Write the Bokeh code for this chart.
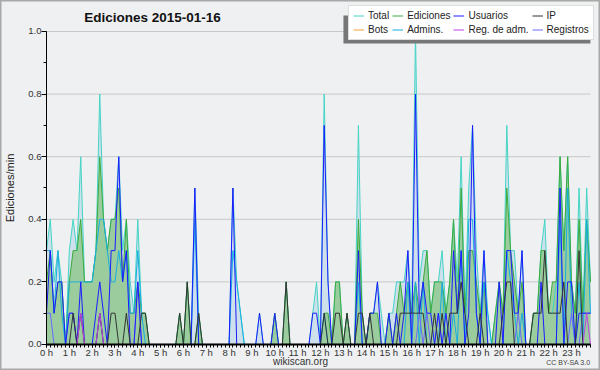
from bokeh.plotting import figure
from bokeh.models import (ColumnDataSource, FixedTicker, Legend, LegendItem, Label,
                          Range1d, PrintfTickFormatter, BoxAnnotation)
from bokeh.embed import file_html
from bokeh.resources import INLINE

# 10-minute bins over the day (values in edits/min)
total = [0.3,0.4,0.2,0.3,0.2,0.0,0.3,0.4,0.3,0.6,0.2,0.2,
         0.2,0.3,0.8,0.4,0.3,0.4,0.4,0.6,0.3,0.4,0.2,0.1,
         0.4,0.1,0.1,0,0,0,0,0,0,0,0,0.1,
         0,0.2,0,0.5,0.1,0,0,0,0,0,0,0,
         0,0.5,0.2,0.1,0,0,0,0,0.1,0,0,0,
         0.1,0,0,0.2,0,0,0,0,0,0,0.1,0.2,
         0,0.8,0.2,0,0.2,0.2,0,0.1,0,0,0.7,0.1,
         0,0.1,0.1,0.2,0.1,0,0.1,0.1,0.2,0.2,0.2,0.3,
         0.1,1.0,0.2,0.3,0.3,0.1,0.2,0.2,0.3,0.1,0.2,0.4,
         0.2,0.6,0.1,0.5,0.7,0.3,0.1,0.3,0.1,0,0.1,0.2,
         0.1,0.7,0.3,0.3,0.1,0.3,0,0,0.1,0.1,0.3,0.4,
         0.1,0.1,0.2,0.6,0.3,0.6,0.2,0.1,0.5,0.1,0.5,0.2]
edits = [0.2,0.3,0.1,0.2,0.2,0,0.2,0.3,0.3,0.4,0.2,0.2,
         0.2,0.3,0.6,0.4,0.3,0.4,0.4,0.5,0.2,0.4,0.1,0.1,
         0.2,0.1,0.1,0,0,0,0,0,0,0,0,0.1,
         0,0.2,0,0,0.1,0,0,0,0,0,0,0,
         0,0,0,0,0,0,0,0,0,0,0,0,
         0.1,0,0,0.2,0,0,0,0,0,0,0,0,
         0,0.1,0.1,0,0.2,0.2,0,0.1,0,0,0.4,0.1,
         0,0.1,0.1,0.1,0,0,0.1,0,0.1,0.2,0.1,0.2,
         0.1,0.2,0.1,0.2,0.3,0.1,0.2,0.2,0.2,0.1,0.2,0.4,
         0.1,0.5,0.1,0.3,0.3,0.2,0.1,0.2,0,0,0.1,0.2,
         0.1,0.5,0.3,0.2,0.1,0.2,0,0,0.1,0.1,0.3,0.3,
         0.1,0.2,0.2,0.6,0.3,0.6,0.2,0.1,0.4,0.1,0.4,0.2]
users = [0.1,0.3,0.1,0.2,0.2,0,0.1,0.1,0,0.2,0,0,
         0,0.1,0.2,0.1,0,0.3,0.3,0.6,0.2,0.3,0,0,
         0.2,0,0,0,0,0,0,0,0,0,0,0,
         0,0,0,0.5,0,0,0,0,0,0,0,0,
         0,0.5,0,0,0,0,0,0,0.1,0,0,0,
         0.1,0,0,0,0,0,0,0,0,0,0.1,0.1,
         0,0.7,0.2,0,0,0,0,0,0,0,0.3,0,
         0,0.1,0.1,0.2,0,0,0.1,0,0.1,0,0.1,0.3,
         0,0.8,0.1,0.2,0.1,0.1,0,0.1,0,0.1,0,0.3,
         0.1,0.3,0,0.1,0.7,0.1,0,0.3,0,0,0,0.2,
         0,0.3,0.3,0.1,0.1,0.3,0,0,0,0,0.2,0,
         0,0,0,0.5,0,0.2,0.2,0,0.1,0.1,0.1,0.1]
ip = [0,0,0,0,0,0,0,0.1,0,0.1,0,0,
      0,0,0.1,0,0,0.1,0.1,0,0,0.1,0,0,
      0,0.1,0.1,0,0,0,0,0,0,0,0,0.1,
      0,0.2,0,0,0.1,0,0,0,0,0,0,0,
      0,0,0,0,0,0,0,0,0,0,0,0,
      0,0,0,0.2,0,0,0,0,0,0,0,0,
      0,0.1,0,0,0.1,0.1,0,0.1,0,0,0.1,0.1,
      0,0.1,0,0,0,0,0,0,0,0.1,0.1,0.1,
      0.1,0.1,0.1,0.1,0,0,0.1,0,0.1,0,0.1,0.1,
      0.1,0.2,0.1,0,0,0,0.1,0,0,0,0,0,
      0.1,0.2,0.2,0,0,0,0,0,0.1,0.1,0.1,0.3,
      0.1,0.1,0.1,0.1,0.2,0,0,0,0.3,0,0,0]
admins = [0.3,0.3,0.1,0.3,0.1,0,0.2,0.2,0.2,0.2,0.2,0.2,
          0.2,0.3,0.4,0.4,0.3,0.2,0.2,0.3,0.2,0.3,0.1,0.1,
          0.3,0.1,0,0,0,0,0,0,0,0,0,0,
          0,0,0,0.4,0,0,0,0,0,0,0,0,
          0,0.3,0.2,0.1,0,0,0,0,0,0,0,0,
          0,0,0,0,0,0,0,0,0,0,0,0,
          0,0.1,0,0,0,0,0,0,0,0,0.2,0,
          0,0,0,0,0,0,0,0,0,0,0,0.2,
          0,0.2,0,0.2,0,0,0,0,0.2,0,0,0.1,
          0,0.3,0,0.4,0.4,0.1,0,0.2,0.1,0,0,0,
          0,0.3,0.2,0.1,0,0.1,0,0,0,0,0,0,
          0,0,0,0.4,0,0.5,0.1,0,0.2,0,0.4,0.1]
bots = [0] * 144
reg_adm = [0,0,0,0,0,0,0,0,0,0.1,0,0,
           0,0,0.1,0,0,0,0,0,0,0,0,0,
           0,0,0,0,0,0,0,0,0,0,0,0,
           0,0,0,0,0,0,0,0,0,0,0,0,
           0,0,0,0,0,0,0,0,0,0,0,0,
           0,0,0,0,0,0,0,0,0,0,0,0,
           0,0,0,0,0,0,0,0,0,0,0,0,
           0,0,0,0,0,0,0,0,0,0,0,0,
           0,0,0,0,0,0,0,0,0,0,0,0,
           0,0,0,0,0,0,0,0,0,0,0,0,
           0,0,0,0,0,0,0,0,0,0,0,0,
           0,0,0,0,0,0,0,0,0,0,0.1,0]
registros = [0.1,0.1,0,0,0,0,0.1,0.1,0,0,0,0,
             0,0,0.1,0,0,0,0,0,0,0,0,0,
             0.2,0,0,0,0,0,0,0,0,0,0,0,
             0,0,0,0,0,0,0,0,0,0,0,0,
             0,0,0,0,0,0,0,0,0,0,0,0,
             0,0,0,0,0,0,0,0,0,0,0,0,
             0,0,0,0,0,0,0,0,0,0,0,0,
             0,0,0,0,0,0,0,0,0,0,0,0,
             0,0,0.1,0,0.1,0,0,0.1,0,0,0,0,
             0,0,0,0,0,0,0,0,0,0,0,0,
             0,0,0,0,0.1,0,0,0,0,0,0,0,
             0,0,0,0,0,0,0.1,0,0,0.1,0.1,0.1]

hours = [i / 6 for i in range(144)]
hour_ticks = list(range(24))
hour_labels = {h: f"{h} h" for h in hour_ticks}
y_ticks = [0.0, 0.2, 0.4, 0.6, 0.8, 1.0]
series_names = ["Total", "Ediciones", "Usuarios", "IP",
                "Bots", "Admins.", "Reg. de adm.", "Registros"]

src = ColumnDataSource(dict(x=hours, total=total, edits=edits, users=users, ip=ip,
                            admins=admins, bots=bots, reg_adm=reg_adm,
                            registros=registros))

FONT = "Liberation Sans"
X_END = hours[-1]

p = figure(width=600, height=370, output_backend="svg", toolbar_location=None,
           x_range=Range1d(-2.0153, 24.272), y_range=Range1d(-0.0831, 1.099),
           min_border_left=0, min_border_right=0, min_border_top=0,
           min_border_bottom=0)
p.border_fill_color = "#f0f0f0"
p.background_fill_color = "#eff0f1"
p.outline_line_color = "#a8a8a8"
p.outline_line_width = 2

# horizontal grid lines, limited to the data span
grid_y = y_ticks[1:]
p.segment(x0=[0] * len(grid_y), x1=[X_END] * len(grid_y), y0=grid_y, y1=grid_y,
          line_color="#c8c8c8", line_width=1)
p.xgrid.visible = False
p.ygrid.visible = False

# areas
p.varea(x="x", y1=0, y2="total", source=src, fill_color="#c6dcea", fill_alpha=0.8)
p.varea(x="x", y1=0, y2="edits", source=src, fill_color="#96ca96", fill_alpha=0.9)

# lines
r_bots = p.line("x", "bots", source=src, line_color="#f0a030", line_width=1)
r_total = p.line("x", "total", source=src, line_color="#44d4c6", line_width=1)
r_edits = p.line("x", "edits", source=src, line_color="#3caa3c", line_width=1)
r_admins = p.line("x", "admins", source=src, line_color="#18aee0", line_width=1)
r_reg = p.line("x", "registros", source=src, line_color="#6a6aff", line_width=1)
r_users = p.line("x", "users", source=src, line_color="#1c1cff", line_width=1)
r_ip = p.line("x", "ip", source=src, line_color="#333333", line_width=1)
r_regadm = p.line("x", "reg_adm", source=src, line_color="#c040e8", line_width=1)

# axes (drawn at the data origin)
p.xaxis.fixed_location = 0
p.xaxis.bounds = (0, X_END)
p.xaxis.ticker = FixedTicker(ticks=hour_ticks, minor_ticks=hours)
p.xaxis.major_label_overrides = hour_labels
p.yaxis.fixed_location = 0
p.yaxis.bounds = (0, 1.0)
p.yaxis.ticker = FixedTicker(ticks=y_ticks, minor_ticks=[i / 10 for i in range(11)])
p.yaxis.formatter = PrintfTickFormatter(format="%.1f")
for ax in (p.xaxis[0], p.yaxis[0]):
    ax.axis_line_color = "black"
    ax.major_tick_line_color = "black"
    ax.minor_tick_line_color = "black"
    ax.major_tick_in = 0
    ax.minor_tick_in = 0
    ax.major_label_text_font = FONT
    ax.major_label_text_font_size = "9.5px"
    ax.major_label_text_color = "#333333"
p.xaxis.axis_line_width = 2
p.xaxis.major_tick_out = 3
p.xaxis.minor_tick_out = 3
p.xaxis.major_label_standoff = 0
p.yaxis.major_tick_out = 5
p.yaxis.minor_tick_out = 3
p.yaxis.major_label_standoff = 0
p.yaxis.axis_label = "Ediciones/min"
p.yaxis.axis_label_text_font = FONT
p.yaxis.axis_label_text_font_size = "11px"
p.yaxis.axis_label_text_font_style = "normal"
p.yaxis.axis_label_text_color = "#222222"
p.yaxis.axis_label_standoff = 9

# title & credits
p.add_layout(Label(x=4.73, y=1.045, text="Ediciones  2015-01-16", text_align="center",
                   text_baseline="middle", text_font=FONT, text_font_style="bold",
                   text_font_size="13.5px", text_color="#111111"))
p.add_layout(Label(x=11.13, y=-0.0543, text="wikiscan.org", text_align="center",
                   text_baseline="middle", text_font=FONT, text_font_size="10px",
                   text_color="#333333"))
p.add_layout(Label(x=23.83, y=-0.0575, text="CC BY-SA 3.0", text_align="right",
                   text_baseline="middle", text_font=FONT, text_font_size="7px",
                   text_color="#444444"))

# legend shadow
p.add_layout(BoxAnnotation(left=13.01, right=23.83, top=1.051, bottom=0.9617,
                           fill_color="#777777", fill_alpha=1.0, line_color=None))

items = [LegendItem(label=series_names[0], renderers=[r_total]),
         LegendItem(label=series_names[1], renderers=[r_edits]),
         LegendItem(label=series_names[2], renderers=[r_users]),
         LegendItem(label=series_names[3], renderers=[r_ip]),
         LegendItem(label=series_names[4], renderers=[r_bots]),
         LegendItem(label=series_names[5], renderers=[r_admins]),
         LegendItem(label=series_names[6], renderers=[r_regadm]),
         LegendItem(label=series_names[7], renderers=[r_reg])]
legend = Legend(items=items, orientation="horizontal", ncols=4,
                location=(348, 330), background_fill_color="white",
                background_fill_alpha=1.0, border_line_color="#bbbbbb",
                label_text_font=FONT, label_text_font_size="10px",
                label_text_color="#222222", glyph_width=11, glyph_height=11,
                label_height=11, label_standoff=4, spacing=3, padding=4,
                margin=0, label_text_line_height=1.0)
p.add_layout(legend, "center")

open("out.html", "w").write(file_html(p, INLINE))
